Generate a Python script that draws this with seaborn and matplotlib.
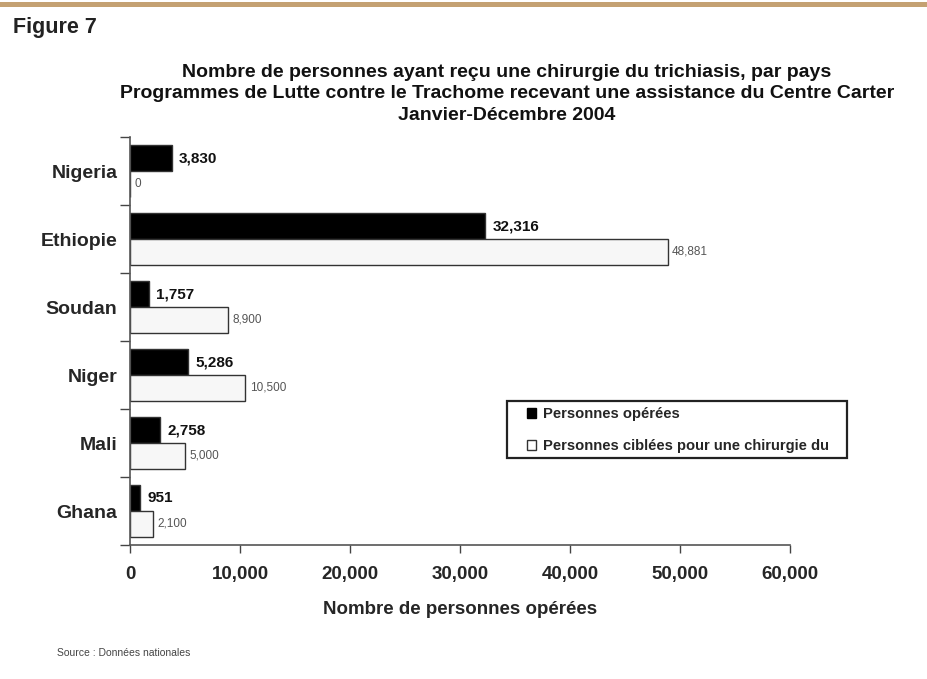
import matplotlib
matplotlib.use("Agg")
import matplotlib.pyplot as plt
from matplotlib.patches import Patch, Rectangle
import seaborn as sns
import pandas as pd

# Data
pays = ["Nigeria", "Ethiopie", "Soudan", "Niger", "Mali", "Ghana"]
operees = [3830, 32316, 1757, 5286, 2758, 951]
ciblees = [0, 48881, 8900, 10500, 5000, 2100]
serie_operees = "Personnes opérées"
serie_ciblees = "Personnes ciblées pour une chirurgie du"
x_ticks = [0, 10000, 20000, 30000, 40000, 50000, 60000]

df = pd.DataFrame({
    "pays": pays * 2,
    "valeur": operees + ciblees,
    "serie": [serie_operees] * len(pays) + [serie_ciblees] * len(pays),
})

sns.set_style("white")
plt.rcParams["font.family"] = ["Liberation Sans", "DejaVu Sans"]

fig = plt.figure(figsize=(9.27, 6.79), dpi=100)
ax = fig.add_axes([0.1402, 0.1973, 0.712, 0.6009])

sns.barplot(
    data=df, y="pays", x="valeur", hue="serie", order=pays,
    hue_order=[serie_operees, serie_ciblees],
    palette={serie_operees: "#000000", serie_ciblees: "#f7f7f7"},
    orient="h", width=0.76, edgecolor="#333333", linewidth=1.0,
    saturation=1, legend=False, ax=ax,
)

# Value labels
fmt = lambda v: f"{v:,.0f}"
ax.bar_label(ax.containers[0], labels=[fmt(v) for v in operees], padding=5,
             fontsize=11, fontweight="bold", color="#111111")
ax.bar_label(ax.containers[1], labels=[fmt(v) for v in ciblees], padding=3,
             fontsize=8.5, color="#555555")

# Axes styling
ax.set_xlim(0, 60000)
ax.set_ylim(5.5, -0.5)
ax.set_xticks(x_ticks)
ax.set_xticklabels([fmt(v) for v in x_ticks], fontsize=13.5, fontweight="bold")
ax.tick_params(axis="x", bottom=True, direction="out", length=6, width=1,
               color="#444444", pad=9)
ax.set_yticks(range(len(pays)))
ax.set_yticklabels(pays, fontsize=14, fontweight="bold")
ax.tick_params(axis="y", which="major", left=True, length=0, pad=9)
ax.set_yticks([i - 0.5 for i in range(len(pays) + 1)], minor=True)
ax.tick_params(axis="y", which="minor", left=True, direction="out", length=7,
               width=1, color="#444444")
ax.set_ylabel("")
ax.set_xlabel("Nombre de personnes opérées", fontsize=13.5, fontweight="bold", labelpad=13)
for s in ["top", "right"]:
    ax.spines[s].set_visible(False)
for s in ["left", "bottom"]:
    ax.spines[s].set_color("#555555")
    ax.spines[s].set_linewidth(1.2)

# Legend with its own box
box = Rectangle((507 / 927, 1 - 458 / 679), 340 / 927, 57 / 679,
                transform=fig.transFigure, facecolor="white",
                edgecolor="#222222", linewidth=1.6, zorder=5, clip_on=False)
ax.add_patch(box)
handles = [Patch(facecolor="#000000", edgecolor="#000000"),
           Patch(facecolor="#ffffff", edgecolor="#333333")]
leg = ax.legend(handles, [serie_operees, serie_ciblees],
                loc="upper left", bbox_to_anchor=(524 / 927, 1 - 404 / 679),
                bbox_transform=fig.transFigure, frameon=False,
                prop={"weight": "bold", "size": 10.6}, handlelength=0.62,
                handleheight=0.62, handletextpad=0.5, labelspacing=1.25,
                borderpad=0.2, borderaxespad=0)
leg.set_zorder(6)

# Header band, titles and source
fig.patches.append(Rectangle((0, 1 - 7 / 679), 1, 5 / 679, transform=fig.transFigure,
                             facecolor="#c4a172", edgecolor="none"))
fig.text(13 / 927, 1 - 27 / 679, "Figure 7", fontsize=15.5, fontweight="bold",
         color="#222222", va="center", ha="left")
titre = ("Nombre de personnes ayant reçu une chirurgie du trichiasis, par pays\n"
         "Programmes de Lutte contre le Trachome recevant une assistance du Centre Carter\n"
         "Janvier-Décembre 2004")
fig.text(507 / 927, 1 - 94 / 679, titre, fontsize=14, fontweight="bold",
         ha="center", va="center", linespacing=1.36, color="#111111")
fig.text(57 / 927, 1 - 653 / 679, "Source : Données nationales", fontsize=7.5,
         color="#444444", va="center", ha="left")

fig.savefig("out.png", dpi=100)
